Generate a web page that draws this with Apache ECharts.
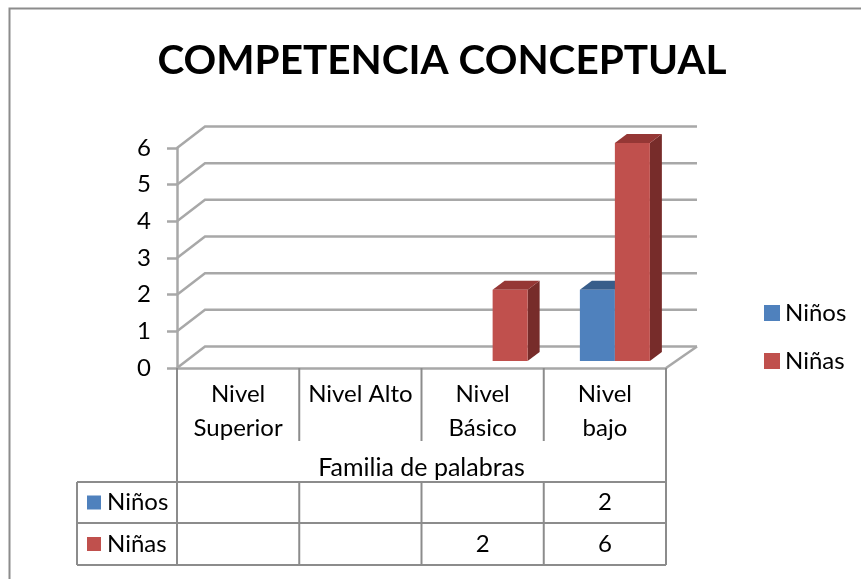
<!DOCTYPE html>
<html><head><meta charset="utf-8">
<style>html,body{margin:0;padding:0;background:#fff}#c{width:861px;height:579px}</style>
<script src="https://cdn.jsdelivr.net/npm/echarts@6/dist/echarts.min.js"></script>
</head><body><div id="c"></div>
<script>
const titleText = 'COMPETENCIA CONCEPTUAL';
const categories = ['Nivel\nSuperior', 'Nivel Alto', 'Nivel\nBásico', 'Nivel\nbajo'];
const axisGroup = 'Familia de palabras';
const ninos = [null, null, null, 2];
const ninas = [null, null, 2, 6];
const yTicks = [0, 1, 2, 3, 4, 5, 6];

const FONT = 'Lato, "Open Sans", sans-serif';
const GRID = '#a8a8a8', LINE = '#8c8c8c';
const DX = 28, DY = -21.5;            // wall depth
const BAR_DX = 9, BAR_DY = -7;        // bar offset from the front of the floor
const BAR_SDX = 12, BAR_SDY = -9;     // bar's own depth
const BAR_W = 35;
const seriesStyle = [
  {front: '#4f81bd', top: '#385d8a', side: '#2f4f78'},
  {front: '#c0504d', top: '#953735', side: '#772c2a'}
];

function wallItem(params, api) {
  const p = api.coord([0, api.value(0)]);
  const right = api.coord([3, 0])[0] + api.size([1, 0])[0] / 2;
  const left = api.coord([0, 0])[0] - api.size([1, 0])[0] / 2;
  const style = {stroke: GRID, fill: null, lineWidth: 2.5};
  const pts = [[left, p[1]], [left + DX, p[1] + DY], [right + DX + 3, p[1] + DY]];
  const children = [{type: 'polyline', shape: {points: pts}, style}];
  if (api.value(0) === 0) {
    children.push({type: 'line', shape: {x1: right, y1: p[1], x2: right + DX + 3, y2: p[1] + DY}, style});
  }
  return {type: 'group', children};
}

function barItem(idx) {
  return function (params, api) {
    const v = api.value(1);
    if (v == null || isNaN(v)) return null;
    const cat = api.value(0);
    const top = api.coord([cat, v]);
    const base = api.coord([cat, 0]);
    const s = seriesStyle[idx];
    const x0 = top[0] + BAR_DX + 1 + (idx - 1) * BAR_W, x1 = x0 + BAR_W;
    const y0 = top[1] + BAR_DY + 2, y1 = base[1] + BAR_DY;
    return {type: 'group', children: [
      {type: 'polygon', shape: {points: [[x1, y0], [x1 + BAR_SDX, y0 + BAR_SDY], [x1 + BAR_SDX, y1 + BAR_SDY], [x1, y1]]}, style: {fill: s.side}},
      {type: 'polygon', shape: {points: [[x0, y0], [x0 + BAR_SDX, y0 + BAR_SDY], [x1 + BAR_SDX, y0 + BAR_SDY], [x1, y0]]}, style: {fill: s.top}},
      {type: 'rect', shape: {x: x0, y: y0, width: BAR_W, height: y1 - y0}, style: {fill: s.front}}
    ]};
  };
}

function tableItem(params, api) {
  const band = api.size([1, 0])[0];
  const y0 = api.coord([0, 0])[1];
  const xL = api.coord([0, 0])[0] - band / 2;
  const xR = xL + band * 4;
  const r0 = y0 + 114, r1 = y0 + 155, r2 = y0 + 197, rowLabelX = xL - 100;
  const ln = (x1, y1, x2, y2) => ({type: 'line', shape: {x1, y1, x2, y2}, style: {stroke: LINE, lineWidth: 2}});
  const txt = (x, y, text, align, size) => ({type: 'text', style: {x, y, text, fill: '#000', font: (size || 24) + 'px ' + FONT, align: align || 'center', verticalAlign: 'middle'}});
  const kids = [
    ln(xL, y0, xL, r2), ln(xR, y0, xR, r2), ln(rowLabelX, r0, rowLabelX, r2),
    ln(rowLabelX, r0, xR, r0), ln(rowLabelX, r1, xR, r1), ln(rowLabelX, r2, xR, r2),
    txt((xL + xR) / 2, y0 + 100, axisGroup, 'center', 25)
  ];
  for (let i = 1; i < 4; i++) {
    const x = xL + band * i;
    kids.push(ln(x, y0, x, y0 + 73), ln(x, r0, x, r2));
  }
  [[ninos, 'Niños', r0, r1, 0], [ninas, 'Niñas', r1, r2, 1]].forEach(([vals, name, a, b, si]) => {
    const my = (a + b) / 2;
    kids.push({type: 'rect', shape: {x: rowLabelX + 10, y: my - 7, width: 14, height: 14}, style: {fill: seriesStyle[si].front}});
    kids.push(txt(rowLabelX + 30, my, name, 'left'));
    vals.forEach((v, i) => { if (v != null) kids.push(txt(xL + band * (i + 0.5), my, String(v))); });
  });
  return {type: 'group', children: kids};
}

function barSeries(name, vals, idx) {
  return {name, type: 'custom', renderItem: barItem(idx), itemStyle: {color: seriesStyle[idx].front},
    encode: {x: 0, y: 1}, z: 5, data: vals.map((v, i) => [i, v == null ? '-' : v])};
}

const chart = echarts.init(document.getElementById('c'));
chart.setOption({
  animation: false,
  backgroundColor: '#fff',
  title: {text: titleText, left: 437, textAlign: 'center', top: 35,
    textStyle: {fontFamily: FONT, fontWeight: 'bold', fontSize: 40.5, color: '#000'}},
  legend: {left: 759, top: 296, orient: 'vertical', itemWidth: 16, itemHeight: 16, itemGap: 24, icon: 'rect',
    data: ['Niños', 'Niñas'], textStyle: {fontFamily: FONT, fontSize: 24, color: '#000'}},
  grid: {left: 177, right: 195, top: 148, bottom: 211},
  xAxis: {type: 'category', data: categories, axisTick: {show: false},
    axisLine: {lineStyle: {color: GRID, width: 2.5}},
    axisLabel: {interval: 0, margin: 9, fontFamily: FONT, fontSize: 24, lineHeight: 34, color: '#000', verticalAlign: 'top'}},
  yAxis: {type: 'value', min: 0, max: 6, interval: 1, splitLine: {show: false},
    axisLine: {show: true, lineStyle: {color: GRID, width: 2.5}},
    axisTick: {show: true, length: 10, lineStyle: {color: GRID, width: 2.5}},
    axisLabel: {margin: 26, fontFamily: FONT, fontSize: 24, color: '#000', padding: [5, 0, 0, 0]}},
  series: [
    {type: 'custom', name: 'walls', renderItem: wallItem, encode: {y: 0}, data: yTicks.map(v => [v]), z: 1, silent: true},
    barSeries('Niños', ninos, 0),
    barSeries('Niñas', ninas, 1),
    {type: 'custom', name: 'table', renderItem: tableItem, data: [[0, 0]], encode: {x: 0, y: 1}, z: 3, silent: true}
  ],
  graphic: [{type: 'polyline', silent: true, shape: {points: [[9.5, 579], [9.5, 8.5], [861, 8.5]]}, style: {stroke: '#8c8c8c', lineWidth: 2, fill: null}}]
});
</script></body></html>
